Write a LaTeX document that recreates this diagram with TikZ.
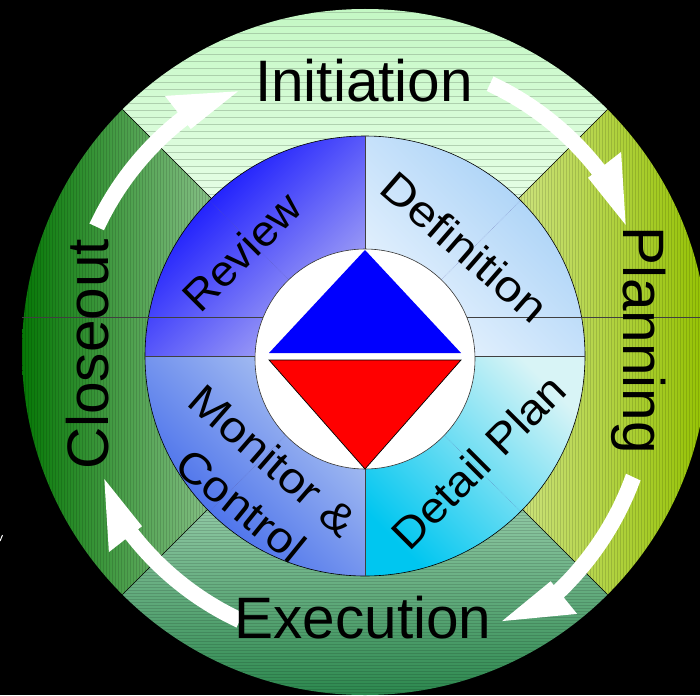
\documentclass[tikz,border=0pt]{standalone}
\usepackage{fontspec}
\setmainfont{Liberation Sans}
\usetikzlibrary{calc}
\definecolor{initA}{HTML}{C4F8C4}
\definecolor{initB}{HTML}{E6FEE6}
\definecolor{closeA}{HTML}{067806}
\definecolor{closeB}{HTML}{86C086}
\definecolor{planA}{HTML}{CCE27C}
\definecolor{planB}{HTML}{94C200}
\definecolor{execA}{HTML}{92CAA6}
\definecolor{execB}{HTML}{2C884E}
\definecolor{revA}{HTML}{0000FF}
\definecolor{revB}{HTML}{B0B0F4}
\definecolor{defA}{HTML}{A2CEF6}
\definecolor{defB}{HTML}{EAF4FE}
\definecolor{detA}{HTML}{D8F4F6}
\definecolor{detB}{HTML}{00C6F0}
\definecolor{monA}{HTML}{B2C8F2}
\definecolor{monB}{HTML}{3660EA}
\definecolor{stripeI}{HTML}{8FAE8F}
\tikzset{
  outerlabel/.style={inner sep=0pt, font=\fontsize{58.5}{62}\selectfont, text=black},
  innerlabel/.style={inner sep=0pt, font=\fontsize{43}{46}\selectfont, text=black},
  hstripe/.style={line width=0.6pt, draw=stripeI, opacity=0.55},
  vstripe/.style={line width=0.7pt, draw=black, opacity=0.13},
  divider/.style={line width=0.6pt, draw=black!75},
  faintdiag/.style={line width=0.5pt, draw=blue!30!gray, densely dotted, opacity=0.5},
  arrowfill/.style={fill=white}
}
\newcommand{\cyclearrow}[4]{%
  \fill[arrowfill]
    plot[domain=#1:#2, samples=40] ({365+(304+#4*(\x-(#1))/((#2)-(#1)))*cos(\x)}, {352-(304+#4*(\x-(#1))/((#2)-(#1)))*sin(\x)})
    -- ({365+(325+#4)*cos(#2)}, {352-(325+#4)*sin(#2)})
    -- ({365+(290+#4)*cos(#3)}, {352-(290+#4)*sin(#3)})
    -- ({365+(283+#4)*cos(#2)}, {352-(283+#4)*sin(#2)})
    -- plot[domain=#2:#1, samples=40] ({365+(288+#4*(\x-(#1))/((#2)-(#1)))*cos(\x)}, {352-(288+#4*(\x-(#1))/((#2)-(#1)))*sin(\x)})
    -- cycle;}
\begin{document}
\begin{tikzpicture}[x=1pt,y=-1pt]
\useasboundingbox (0,0) rectangle (700,695);
\fill[black] (0,0) rectangle (700,695);
\begin{scope}
\clip (0,0) rectangle (700,695);
% ---------- outer ring ----------
\begin{scope}
  \clip (365,352) circle[radius=343pt];
  % Initiation (top)
  \begin{scope}
    \clip (365,352) -- (-35,-48) -- (765,-48) -- cycle;
    \shade[top color=initA, bottom color=initB] (0,9) rectangle (700,205);
    \foreach \y in {12,19,...,210} \draw[hstripe] (0,\y) -- (700,\y);
  \end{scope}
  % Closeout (left)
  \begin{scope}
    \clip (365,352) -- (-35,-48) -- (-35,752) -- cycle;
    \shade[left color=closeA, right color=closeB] (22,0) rectangle (212,695);
    \foreach \x in {22,25,...,212} \draw[vstripe] (\x,0) -- (\x,695);
  \end{scope}
  % Planning (right)
  \begin{scope}
    \clip (365,352) -- (765,-48) -- (765,752) -- cycle;
    \shade[left color=planA, right color=planB] (518,0) rectangle (710,695);
    \foreach \x in {518,521,...,710} \draw[vstripe] (\x,0) -- (\x,695);
  \end{scope}
  % Execution (bottom)
  \begin{scope}
    \clip (365,352) -- (-35,752) -- (765,752) -- cycle;
    \shade[top color=execA, bottom color=execB] (0,505) rectangle (700,695);
    \foreach \y in {506,509,...,695} \draw[vstripe] (0,\y) -- (700,\y);
  \end{scope}
  \draw[line width=0.6pt] (-35,-48) -- (765,752);
  \draw[line width=0.6pt] (765,-48) -- (-35,752);
\end{scope}
% ---------- inner ring ----------
\begin{scope}
  \clip (365,356) circle[radius=220pt];
  \shade[left color=revA, right color=revB, shading angle=45] (145,136) rectangle (365,356);
  \shade[top color=defA, bottom color=defB, shading angle=-45] (365,136) rectangle (585,356);
  \shade[top color=detA, bottom color=detB, shading angle=-45] (365,356) rectangle (585,576);
  \shade[top color=monA, bottom color=monB, shading angle=-45] (145,356) rectangle (365,576);
  \draw[faintdiag] (365,356) -- (210,201);
  \draw[faintdiag] (365,356) -- (520,201);
  \draw[faintdiag] (365,356) -- (520,511);
  \draw[faintdiag] (365,356) -- (210,511);
\end{scope}
\draw[line width=0.6pt] (365,356) circle[radius=220pt];
\draw[divider] (145,356) -- (585,356);
\draw[divider] (365,136) -- (365,576);
\draw[divider] (22,317) -- (710,317);
% ---------- centre ----------
\fill[white] (365,359) circle[radius=110pt];
\draw[line width=0.6pt, draw=black!80] (365,359) circle[radius=110pt];
\fill[blue] (365,250) -- (269,353) -- (461,353) -- cycle;
\filldraw[fill=red, draw=black, line width=0.7pt] (269,360) -- (461,360) -- (365,469) -- cycle;
% ---------- arrows ----------
\cyclearrow{155}{128}{116}{0}
\cyclearrow{65}{38}{26}{0}
\cyclearrow{-25}{-51}{-63}{12}
\cyclearrow{-115}{-142}{-154}{0}
\draw[white, line width=1pt] (0,541) -- (2.5,535);
% ---------- labels ----------
\node[outerlabel, anchor=base] (init) at (364,102) {Initiation};
\node[outerlabel, anchor=base] (exec) at (363,638) {Execution};
\node[outerlabel, anchor=base west, rotate=-90] (plan) at (623,226) {Planning};
\node[outerlabel, anchor=base west, rotate=90] (close) at (108,470) {Closeout};
\node[innerlabel, anchor=base west, rotate=45, xscale=1.05] (rev) at (200,315) {Review};
\node[innerlabel, anchor=base west, rotate=-41, xscale=1.145] (def) at (377,191) {Definition};
\node[innerlabel, anchor=base west, rotate=45, xscale=1.09] (det) at (409,553) {Detail Plan};
\node[innerlabel, anchor=base west, rotate=-41, xscale=1.12] (mon1) at (185,404) {Monitor \&};
\node[innerlabel, anchor=base west, rotate=-39, xscale=1.1] (mon2) at (172,469) {Control};
\end{scope}
\end{tikzpicture}
\end{document}
